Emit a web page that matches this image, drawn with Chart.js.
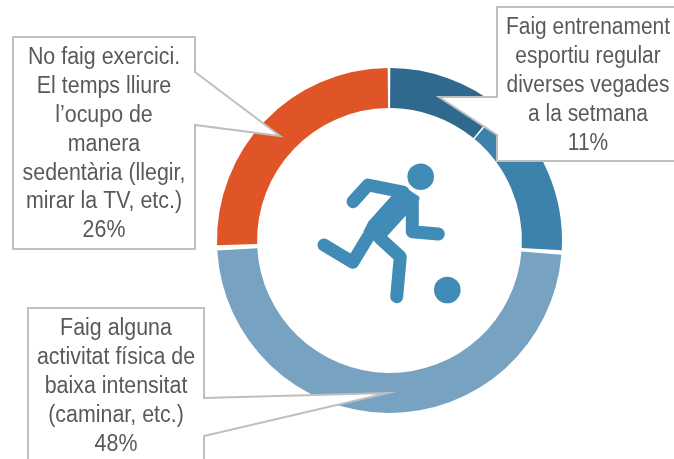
<!DOCTYPE html>
<html>
<head>
<meta charset="utf-8">
<style>
  html, body { margin: 0; padding: 0; background: #fff; overflow: hidden; }
  #wrap { width: 674px; height: 459px; position: relative; }
</style>
<script src="https://cdn.jsdelivr.net/npm/chart.js@4/dist/chart.umd.min.js"></script>
</head>
<body>
<div id="wrap"><canvas id="sport_chart" width="674" height="459"></canvas></div>
<script>
// values, clockwise from the top
const categories = [
    'Faig entrenament esportiu regular diverses vegades a la setmana',
    '',
    'Faig alguna activitat física de baixa intensitat (caminar, etc.)',
    'No faig exercici. El temps lliure l’ocupo de manera sedentària (llegir, mirar la TV, etc.)'
];
const shares = [11, 15, 48.4, 25.6];
const sliceColors = ['#2f6a8e', '#3c82ab', '#77a2c2', '#e05527'];

const labelTop = ['Faig entrenament', 'esportiu regular', 'diverses vegades', 'a la setmana'];
const labelBottom = ['Faig alguna', 'activitat física de', 'baixa intensitat', '(caminar, etc.)'];
const labelLeft = ['No faig exercici.', 'El temps lliure', 'l’ocupo de', 'manera', 'sedentària (llegir,', 'mirar la TV, etc.)'];

// callout boxes, the pointer runs from the box edge to the tip
const callouts = [
    { lines: labelTop, share: 0, cx: 588, firstY: 28, step: 29, squeeze: 0.91,
      outline: [[497, 97], [439, 97], [497, 135], [497, 161], [690, 161], [690, 7], [497, 7]] },
    { lines: labelBottom, share: 2, cx: 116, firstY: 329, step: 29, squeeze: 0.93,
      outline: [[204, 398], [388, 393], [204, 436], [204, 475], [28, 475], [28, 308], [204, 308]] },
    { lines: labelLeft, share: 3, cx: 104, firstY: 58, step: 28.8, squeeze: 0.93,
      outline: [[195, 72], [280, 136], [195, 125], [195, 249], [13, 249], [13, 37], [195, 37]] }
];

function drawCallout (ctx, c) {
    ctx.beginPath();
    c.outline.forEach((p, i) => { i ? ctx.lineTo(p[0], p[1]) : ctx.moveTo(p[0], p[1]); });
    ctx.closePath();
    ctx.fillStyle = '#fff';
    ctx.fill();
    ctx.strokeStyle = '#bfbfbf';
    ctx.lineWidth = 2;
    ctx.stroke();

    ctx.fillStyle = '#595959';
    ctx.font = '23px "Liberation Sans", sans-serif';
    ctx.textAlign = 'center';
    ctx.textBaseline = 'middle';
    let rows = c.lines.concat(Math.round(shares[c.share]) + '%');
    rows.forEach((t, i) => {
        // no narrow face installed, squeeze the regular one
        ctx.save();
        ctx.translate(c.cx, c.firstY + i * c.step);
        ctx.scale(c.squeeze, 1);
        ctx.fillText(t, 0, 0);
        ctx.restore();
    });
}

function limb (ctx, pts) {
    ctx.beginPath();
    pts.forEach((p, i) => { i ? ctx.lineTo(p[0], p[1]) : ctx.moveTo(p[0], p[1]); });
    ctx.stroke();
}

// the runner and ball in the middle of the ring
function drawRunner (ctx) {
    ctx.save();
    ctx.fillStyle = '#418cb7';
    ctx.strokeStyle = '#418cb7';
    ctx.lineWidth = 13;
    ctx.lineCap = 'round';
    ctx.lineJoin = 'round';
    ctx.beginPath(); ctx.arc(420.7, 176.7, 13.3, 0, Math.PI * 2); ctx.fill();
    ctx.beginPath(); ctx.arc(447.3, 290, 13.3, 0, Math.PI * 2); ctx.fill();
    limb(ctx, [[353, 201.7], [368, 185], [403, 192]]);
    limb(ctx, [[412.3, 203], [412.3, 231.7], [438.3, 234]]);
    limb(ctx, [[380, 238.3], [400.3, 256.7], [396.7, 296.7]]);
    limb(ctx, [[368.3, 236.7], [352.7, 262.3], [324, 245]]);
    ctx.beginPath();
    [[390.7, 196.7], [368.3, 221.7], [363.3, 231.7], [372.3, 240.7], [387.3, 236], [405.7, 215.7], [419.3, 200], [419.3, 196.7], [403.3, 186]].forEach((p, i) => {
        i ? ctx.lineTo(p[0], p[1]) : ctx.moveTo(p[0], p[1]);
    });
    ctx.closePath();
    ctx.fill();
    ctx.restore();
}

const calloutPlugin = {
    id: 'callouts',
    afterDraw (chart) {
        drawRunner(chart.ctx);
        callouts.forEach(c => drawCallout(chart.ctx, c));
    }
};

let sport_chart = new Chart(document.getElementById('sport_chart').getContext('2d'), {
    type: 'doughnut',
    data: {
        labels: categories,
        datasets: [{
            data: shares,
            backgroundColor: sliceColors,
            borderWidth: 0,
            spacing: 4
        }]
    },
    options: {
        responsive: false,
        animation: false,
        cutout: '76.5%',
        layout: { padding: { left: 217, right: 112, top: 68, bottom: 46 } },
        plugins: {
            legend: { display: false },
            tooltip: { enabled: false }
        }
    },
    plugins: [calloutPlugin]
});
</script>
</body>
</html>
